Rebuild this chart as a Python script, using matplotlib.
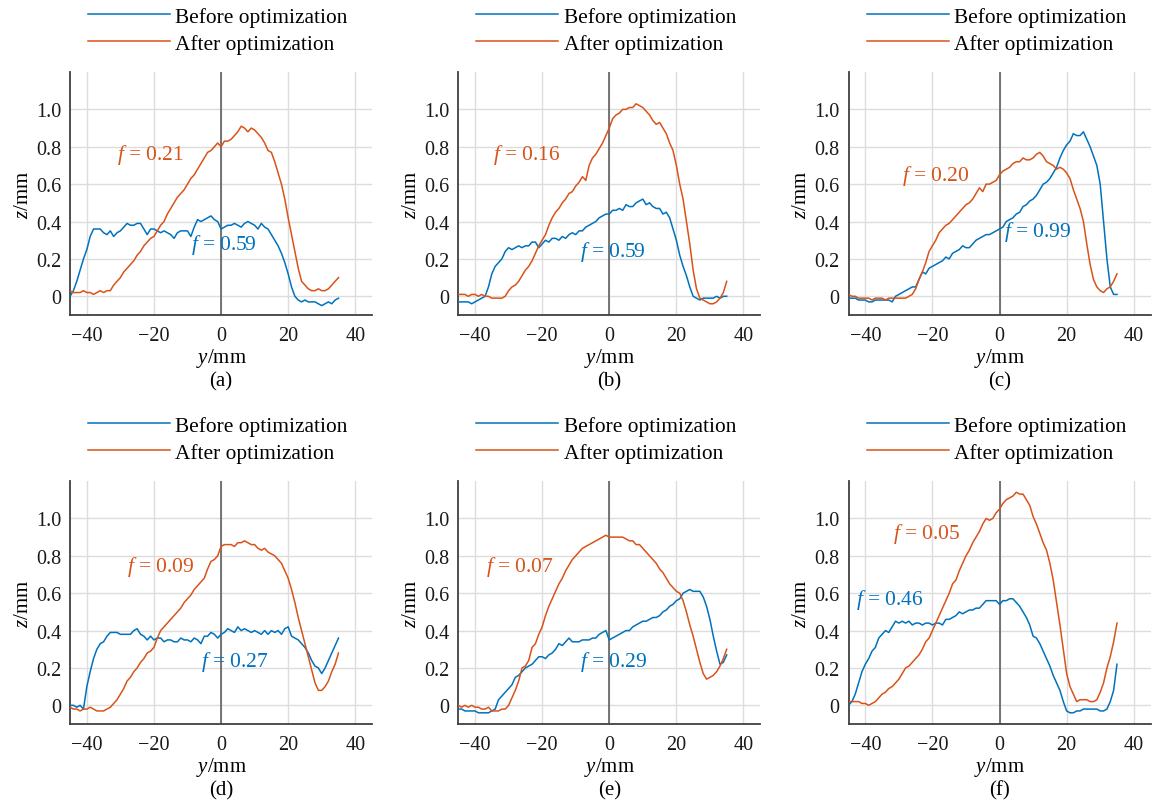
import numpy as np
import matplotlib
matplotlib.use('Agg')
import matplotlib.pyplot as plt

plt.rcParams['font.family'] = ['Liberation Serif', 'DejaVu Serif']
plt.rcParams['mathtext.fontset'] = 'custom'
plt.rcParams['mathtext.it'] = 'Liberation Serif:italic'
plt.rcParams['mathtext.rm'] = 'Liberation Serif'

# 横坐标 y/mm，采样间隔 1 mm
y_mm = np.arange(-45, 36)

# 各工况轮廓高度 z/mm：优化前(before)、优化后(after)
a_before = [0.00, 0.03, 0.08, 0.14, 0.20, 0.25, 0.32, 0.36, 0.36, 0.36,
            0.34, 0.33, 0.35, 0.32, 0.34, 0.35, 0.37, 0.39, 0.38, 0.38,
            0.39, 0.39, 0.36, 0.33, 0.36, 0.36, 0.35, 0.34, 0.35, 0.34,
            0.33, 0.31, 0.34, 0.35, 0.35, 0.35, 0.32, 0.37, 0.41, 0.40,
            0.41, 0.42, 0.43, 0.41, 0.40, 0.36, 0.37, 0.38, 0.38, 0.39,
            0.38, 0.37, 0.39, 0.40, 0.39, 0.38, 0.36, 0.39, 0.37, 0.36,
            0.33, 0.30, 0.27, 0.23, 0.18, 0.12, 0.05, 0.00, -0.02, -0.03,
            -0.02, -0.03, -0.03, -0.03, -0.04, -0.05, -0.04, -0.03, -0.04, -0.02,
            -0.01]
a_after = [0.03, 0.02, 0.02, 0.02, 0.03, 0.02, 0.02, 0.01, 0.02, 0.03,
           0.02, 0.03, 0.03, 0.06, 0.08, 0.10, 0.13, 0.15, 0.17, 0.19,
           0.22, 0.24, 0.27, 0.29, 0.31, 0.32, 0.35, 0.38, 0.40, 0.44,
           0.47, 0.50, 0.53, 0.55, 0.57, 0.60, 0.63, 0.65, 0.68, 0.71,
           0.74, 0.77, 0.78, 0.80, 0.82, 0.80, 0.83, 0.83, 0.84, 0.86,
           0.88, 0.91, 0.90, 0.88, 0.90, 0.89, 0.87, 0.85, 0.82, 0.78,
           0.77, 0.72, 0.66, 0.60, 0.52, 0.42, 0.33, 0.24, 0.15, 0.08,
           0.06, 0.04, 0.03, 0.03, 0.04, 0.03, 0.03, 0.04, 0.06, 0.08,
           0.10]

b_before = [-0.03, -0.03, -0.03, -0.03, -0.04, -0.03, -0.02, -0.01, 0.00, 0.05,
            0.12, 0.16, 0.18, 0.20, 0.24, 0.26, 0.25, 0.26, 0.27, 0.26,
            0.27, 0.27, 0.29, 0.29, 0.26, 0.28, 0.30, 0.29, 0.31, 0.31,
            0.30, 0.32, 0.31, 0.33, 0.34, 0.33, 0.35, 0.35, 0.37, 0.38,
            0.39, 0.40, 0.42, 0.43, 0.44, 0.44, 0.46, 0.46, 0.47, 0.46,
            0.49, 0.48, 0.48, 0.50, 0.51, 0.52, 0.49, 0.50, 0.48, 0.47,
            0.47, 0.44, 0.45, 0.42, 0.36, 0.30, 0.22, 0.16, 0.11, 0.05,
            0.00, -0.01, -0.02, -0.01, -0.01, -0.01, -0.01, 0.00, -0.01, 0.00,
            0.00]
b_after = [0.01, 0.01, 0.01, 0.00, 0.01, 0.01, 0.00, 0.01, 0.00, 0.00,
           -0.01, -0.01, -0.01, -0.01, 0.00, 0.03, 0.05, 0.06, 0.08, 0.11,
           0.14, 0.16, 0.19, 0.23, 0.27, 0.30, 0.33, 0.38, 0.42, 0.45,
           0.47, 0.50, 0.52, 0.55, 0.56, 0.59, 0.61, 0.64, 0.62, 0.70,
           0.74, 0.76, 0.79, 0.82, 0.86, 0.90, 0.95, 0.97, 0.98, 1.00,
           1.00, 1.01, 1.01, 1.03, 1.02, 1.01, 0.99, 0.97, 0.94, 0.92,
           0.93, 0.90, 0.87, 0.82, 0.78, 0.70, 0.60, 0.52, 0.40, 0.28,
           0.14, 0.04, -0.01, -0.02, -0.03, -0.04, -0.04, -0.03, -0.01, 0.02,
           0.08]

c_before = [-0.01, -0.01, -0.01, -0.02, -0.02, -0.02, -0.03, -0.03, -0.02, -0.02,
            -0.02, -0.02, -0.02, -0.03, 0.00, 0.01, 0.02, 0.03, 0.04, 0.05,
            0.05, 0.09, 0.13, 0.12, 0.15, 0.16, 0.17, 0.18, 0.19, 0.21,
            0.20, 0.23, 0.24, 0.25, 0.27, 0.26, 0.26, 0.28, 0.30, 0.31,
            0.32, 0.33, 0.33, 0.34, 0.35, 0.36, 0.37, 0.40, 0.41, 0.42,
            0.44, 0.45, 0.48, 0.49, 0.51, 0.52, 0.54, 0.57, 0.60, 0.61,
            0.63, 0.66, 0.69, 0.74, 0.78, 0.81, 0.83, 0.87, 0.86, 0.86,
            0.88, 0.84, 0.80, 0.75, 0.70, 0.60, 0.40, 0.20, 0.05, 0.01,
            0.01]
c_after = [0.01, 0.00, 0.00, -0.01, -0.01, -0.01, -0.01, -0.02, -0.01, -0.01,
           -0.01, -0.02, -0.01, -0.01, -0.01, -0.01, -0.01, -0.01, 0.00, 0.01,
           0.04, 0.09, 0.13, 0.18, 0.24, 0.27, 0.30, 0.34, 0.36, 0.38,
           0.39, 0.41, 0.43, 0.45, 0.47, 0.49, 0.50, 0.52, 0.55, 0.58,
           0.56, 0.60, 0.60, 0.61, 0.62, 0.65, 0.67, 0.68, 0.69, 0.71,
           0.72, 0.72, 0.74, 0.73, 0.73, 0.74, 0.76, 0.77, 0.75, 0.72,
           0.71, 0.70, 0.68, 0.69, 0.68, 0.66, 0.63, 0.57, 0.52, 0.47,
           0.40, 0.28, 0.17, 0.09, 0.05, 0.03, 0.02, 0.04, 0.05, 0.08,
           0.12]

d_before = [0.00, 0.00, -0.01, 0.00, -0.02, 0.10, 0.18, 0.25, 0.30, 0.33,
            0.34, 0.37, 0.39, 0.39, 0.39, 0.38, 0.38, 0.38, 0.38, 0.40,
            0.41, 0.38, 0.37, 0.35, 0.37, 0.35, 0.36, 0.36, 0.34, 0.35,
            0.35, 0.34, 0.34, 0.36, 0.35, 0.35, 0.34, 0.36, 0.35, 0.33,
            0.37, 0.37, 0.39, 0.38, 0.36, 0.38, 0.39, 0.41, 0.40, 0.39,
            0.42, 0.40, 0.41, 0.40, 0.39, 0.40, 0.39, 0.38, 0.40, 0.38,
            0.40, 0.39, 0.40, 0.38, 0.41, 0.42, 0.37, 0.36, 0.35, 0.33,
            0.31, 0.28, 0.24, 0.21, 0.20, 0.17, 0.20, 0.24, 0.28, 0.32,
            0.36]
d_after = [-0.01, -0.02, -0.02, -0.03, -0.02, -0.02, -0.01, -0.02, -0.03, -0.03,
           -0.03, -0.02, -0.01, 0.01, 0.03, 0.06, 0.09, 0.13, 0.15, 0.18,
           0.20, 0.23, 0.25, 0.28, 0.29, 0.31, 0.36, 0.40, 0.42, 0.44,
           0.46, 0.48, 0.50, 0.52, 0.55, 0.57, 0.59, 0.62, 0.64, 0.66,
           0.68, 0.73, 0.77, 0.78, 0.80, 0.85, 0.86, 0.86, 0.86, 0.85,
           0.87, 0.87, 0.88, 0.87, 0.86, 0.86, 0.84, 0.83, 0.84, 0.82,
           0.81, 0.80, 0.78, 0.76, 0.72, 0.68, 0.62, 0.55, 0.47, 0.40,
           0.33, 0.26, 0.19, 0.12, 0.08, 0.08, 0.10, 0.13, 0.18, 0.22,
           0.28]

e_before = [-0.02, -0.02, -0.03, -0.03, -0.03, -0.03, -0.04, -0.04, -0.04, -0.04,
            -0.03, -0.02, 0.03, 0.05, 0.07, 0.09, 0.11, 0.15, 0.16, 0.18,
            0.20, 0.21, 0.22, 0.24, 0.26, 0.26, 0.25, 0.27, 0.28, 0.30,
            0.33, 0.32, 0.34, 0.36, 0.34, 0.34, 0.34, 0.35, 0.35, 0.35,
            0.36, 0.36, 0.38, 0.39, 0.40, 0.35, 0.36, 0.37, 0.38, 0.39,
            0.40, 0.40, 0.42, 0.43, 0.44, 0.45, 0.45, 0.46, 0.47, 0.47,
            0.48, 0.50, 0.51, 0.53, 0.54, 0.56, 0.57, 0.60, 0.61, 0.62,
            0.61, 0.61, 0.61, 0.58, 0.53, 0.46, 0.37, 0.29, 0.22, 0.23,
            0.27]
e_after = [0.00, -0.01, 0.00, -0.01, 0.00, -0.01, -0.01, -0.02, -0.02, -0.01,
           -0.03, -0.03, -0.03, -0.02, -0.02, 0.00, 0.04, 0.08, 0.13, 0.20,
           0.21, 0.24, 0.31, 0.33, 0.38, 0.42, 0.48, 0.53, 0.57, 0.61,
           0.65, 0.68, 0.72, 0.75, 0.78, 0.80, 0.82, 0.84, 0.85, 0.86,
           0.87, 0.88, 0.89, 0.90, 0.91, 0.90, 0.90, 0.90, 0.90, 0.90,
           0.89, 0.88, 0.88, 0.86, 0.86, 0.84, 0.82, 0.80, 0.78, 0.76,
           0.73, 0.71, 0.68, 0.65, 0.63, 0.61, 0.60, 0.56, 0.50, 0.43,
           0.37, 0.30, 0.23, 0.17, 0.14, 0.15, 0.16, 0.18, 0.21, 0.25,
           0.30]

f_before = [0.00, 0.02, 0.06, 0.12, 0.18, 0.22, 0.25, 0.29, 0.31, 0.36,
            0.38, 0.40, 0.39, 0.42, 0.45, 0.44, 0.45, 0.44, 0.45, 0.43,
            0.44, 0.44, 0.43, 0.44, 0.44, 0.43, 0.44, 0.44, 0.43, 0.46,
            0.46, 0.47, 0.48, 0.50, 0.49, 0.50, 0.51, 0.51, 0.52, 0.52,
            0.54, 0.56, 0.56, 0.56, 0.56, 0.54, 0.56, 0.56, 0.57, 0.57,
            0.55, 0.53, 0.50, 0.47, 0.43, 0.37, 0.36, 0.33, 0.29, 0.25,
            0.21, 0.16, 0.12, 0.08, 0.02, -0.03, -0.04, -0.04, -0.03, -0.03,
            -0.02, -0.02, -0.02, -0.02, -0.02, -0.03, -0.03, -0.02, 0.02, 0.08,
            0.22]
f_after = [0.02, 0.02, 0.02, 0.02, 0.01, 0.01, 0.00, 0.01, 0.02, 0.04,
           0.06, 0.07, 0.09, 0.10, 0.12, 0.14, 0.17, 0.20, 0.21, 0.23,
           0.25, 0.27, 0.30, 0.34, 0.36, 0.40, 0.44, 0.48, 0.52, 0.56,
           0.60, 0.65, 0.67, 0.72, 0.76, 0.80, 0.83, 0.87, 0.90, 0.93,
           0.97, 1.00, 0.99, 1.00, 1.03, 1.05, 1.08, 1.10, 1.11, 1.12,
           1.14, 1.13, 1.13, 1.10, 1.07, 1.01, 0.97, 0.92, 0.87, 0.83,
           0.76, 0.67, 0.55, 0.43, 0.30, 0.17, 0.10, 0.06, 0.02, 0.03,
           0.03, 0.03, 0.02, 0.02, 0.03, 0.07, 0.12, 0.20, 0.26, 0.34,
           0.44]

panel_names = ['(a)', '(b)', '(c)', '(d)', '(e)', '(f)']
before_list = [a_before, b_before, c_before, d_before, e_before, f_before]
after_list = [a_after, b_after, c_after, d_after, e_after, f_after]
f_before_txt = ['0.59', '0.59', '0.99', '0.27', '0.29', '0.46']
f_after_txt = ['0.21', '0.16', '0.20', '0.09', '0.07', '0.05']
# 标注位置 (y, z)
pos_before = [(-9.1, 0.28), (-8.8, 0.24), (1.4, 0.35), (-6.1, 0.236), (-8.8, 0.236), (-42.7, 0.57)]
pos_after = [(-31, 0.76), (-34.7, 0.76), (-29.1, 0.65), (-28, 0.745), (-36.7, 0.745), (-31.7, 0.92)]

c_blue = '#0072BD'
c_red = '#D95319'

fig = plt.figure(figsize=(11.54, 8.03), dpi=100)
lefts = [0.0607, 0.3971, 0.7353]
bottoms = [0.6065, 0.0971]
w, h = 0.2617, 0.3026

for k in range(6):
    ax = fig.add_axes([lefts[k % 3], bottoms[k // 3], w, h])
    ax.plot(y_mm, before_list[k], color=c_blue, lw=1.1, label='Before optimization', zorder=3)
    ax.plot(y_mm, after_list[k], color=c_red, lw=1.1, label='After optimization', zorder=3)
    ax.axvline(0, color='#606060', lw=1.2, zorder=2)
    ax.set_xlim(-45, 45)
    ax.set_ylim(-0.1, 1.2)
    ax.set_xticks([-40, -20, 0, 20, 40])
    ax.set_yticks([0, 0.2, 0.4, 0.6, 0.8, 1.0])
    ax.set_yticklabels(['0', '0.2', '0.4', '0.6', '0.8', '1.0'])
    ax.grid(True, color='#dcdcdc', lw=1.0, zorder=0)
    ax.set_axisbelow(True)
    for s in ['top', 'right']:
        ax.spines[s].set_visible(False)
    for s in ['left', 'bottom']:
        ax.spines[s].set_color('#404040')
        ax.spines[s].set_linewidth(1.3)
    ax.tick_params(length=0, labelsize=14.5, colors='#1a1a1a')
    ax.tick_params(axis='x', pad=8.0)
    ax.tick_params(axis='y', pad=6.5)

    ax.text(-0.155, 0.5, r'$z$/mm', rotation=90, transform=ax.transAxes,
            ha='center', va='center', fontsize=15)
    ax.text(0.5, -0.176, r'$y$/mm', transform=ax.transAxes,
            ha='center', va='center', fontsize=15)
    ax.text(0.5, -0.27, panel_names[k], transform=ax.transAxes,
            ha='center', va='center', fontsize=15)

    ax.text(pos_after[k][0], pos_after[k][1], r'$f$ = ' + f_after_txt[k],
            color=c_red, fontsize=15.5, ha='left', va='center')
    ax.text(pos_before[k][0], pos_before[k][1], r'$f$ = ' + f_before_txt[k],
            color=c_blue, fontsize=15.5, ha='left', va='center')

    ax.legend(loc='lower left', bbox_to_anchor=(0.06, 1.075), frameon=False,
              fontsize=15.4, handlelength=3.83, handletextpad=0.25,
              labelspacing=0.33, borderpad=0, borderaxespad=0)

fig.savefig('out.png', dpi=100)
